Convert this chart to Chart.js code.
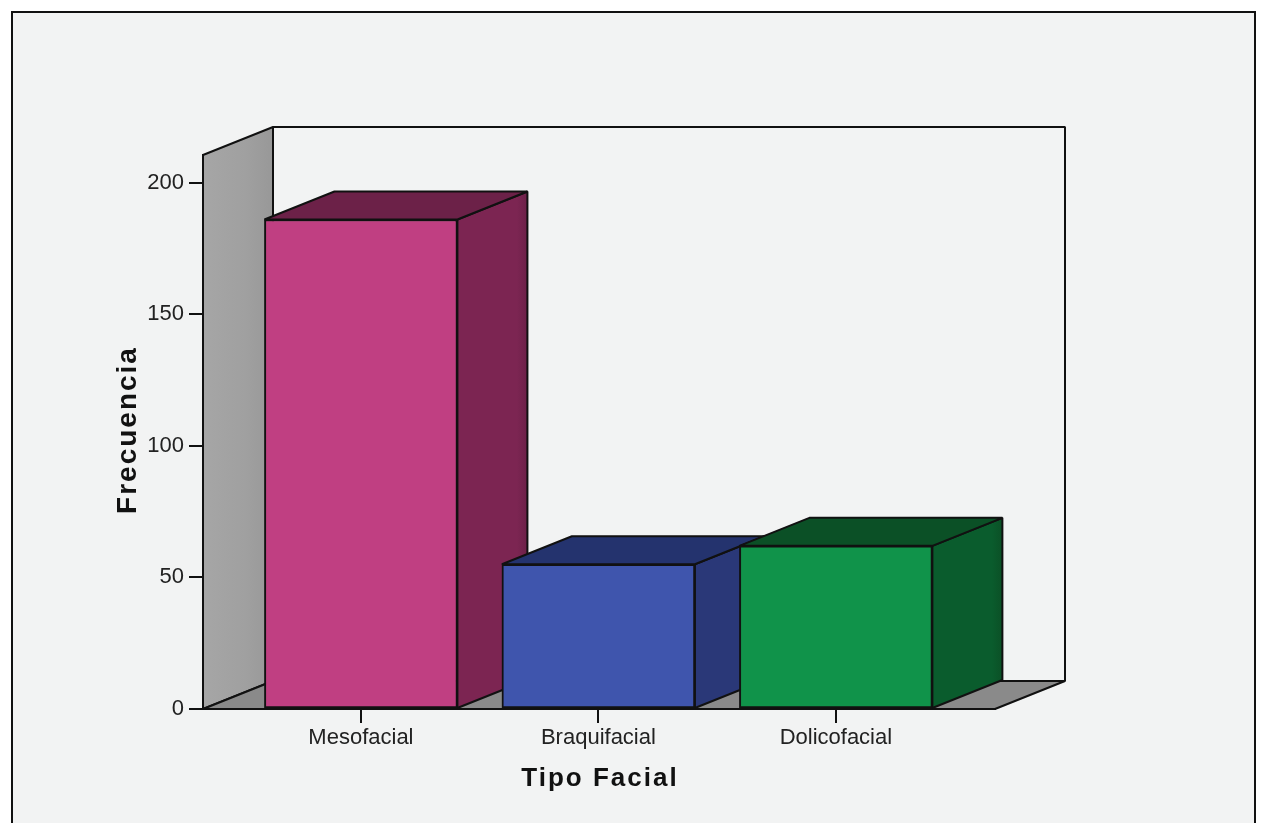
<!DOCTYPE html>
<html>
<head>
<meta charset="utf-8">
<title>Tipo Facial</title>
<style>
  html, body { margin: 0; padding: 0; background: #fff; }
  #wrap { width: 1267px; height: 823px; }
</style>
<script src="https://cdn.jsdelivr.net/npm/chart.js@4"></script>
</head>
<body>
<div id="wrap"><canvas id="facialChart" width="1267" height="823"></canvas></div>
<script>
const categories = ['Mesofacial', 'Braquifacial', 'Dolicofacial'];
const frecuencias = [186, 55, 62];
const yTicks = [0, 50, 100, 150, 200];

const frontColors = ['#c03f82', '#3f55ad', '#10934a'];
const sideColors = ['#7c2552', '#2a3878', '#0a5c2d'];
const topColors = ['#6c2148', '#24336e', '#0b5026'];

const xTitle = 'Tipo Facial';
const yTitle = 'Frecuencia';

// how far the box extrudes up and to the right
const DEPTH_X = 70;
const DEPTH_Y = 28;
const LINE = '#111';

function poly(ctx, points, fill) {
  ctx.beginPath();
  points.forEach((p, i) => (i ? ctx.lineTo(p[0], p[1]) : ctx.moveTo(p[0], p[1])));
  ctx.closePath();
  ctx.fillStyle = fill;
  ctx.fill();
  ctx.lineWidth = 2;
  ctx.strokeStyle = LINE;
  ctx.lineJoin = 'bevel';
  ctx.stroke();
}

// Panel, back wall, left wall and floor go under the scales
const roomPlugin = {
  id: 'room',
  beforeDraw(chart) {
    const { ctx, chartArea: a } = chart;
    ctx.save();
    ctx.fillStyle = '#f2f3f3';
    ctx.strokeStyle = LINE;
    ctx.lineWidth = 2;
    ctx.fillRect(12, 12, 1243, 811);
    ctx.strokeRect(12, 12, 1243, 815);

    const backL = a.left + DEPTH_X, backR = a.right + DEPTH_X;
    const backT = a.top - DEPTH_Y, backB = a.bottom - DEPTH_Y;

    poly(ctx, [[backL, backT], [backR, backT], [backR, backB], [backL, backB]], '#f2f3f3');

    const wall = ctx.createLinearGradient(a.left, 0, backL, 0);
    wall.addColorStop(0, '#a6a6a6');
    wall.addColorStop(0.6, '#a0a0a0');
    wall.addColorStop(1, '#989898');
    poly(ctx, [[a.left, a.top], [backL, backT], [backL, backB], [a.left, a.bottom]], wall);

    poly(ctx, [[a.left, a.bottom], [backL, backB], [backR, backB], [a.right, a.bottom]], '#8a8a8a');
    ctx.restore();
  },
  // Side and top of each bar, the front face comes from the dataset itself
  beforeDatasetsDraw(chart) {
    const { ctx } = chart;
    const bars = chart.getDatasetMeta(0).data;
    ctx.save();
    bars.forEach((bar, i) => {
      const r = bar.x + bar.width / 2;
      const l = bar.x - bar.width / 2;
      const side = ctx.createLinearGradient(r, 0, r + DEPTH_X, 0);
      side.addColorStop(0, sideColors[i]);
      side.addColorStop(0.85, sideColors[i]);
      side.addColorStop(1, topColors[i]);
      poly(ctx, [[r, bar.y], [r + DEPTH_X, bar.y - DEPTH_Y], [r + DEPTH_X, bar.base - DEPTH_Y], [r, bar.base]], side);
      poly(ctx, [[l, bar.y], [l + DEPTH_X, bar.y - DEPTH_Y], [r + DEPTH_X, bar.y - DEPTH_Y], [r, bar.y]], topColors[i]);
    });
    ctx.restore();
  },
  // Axis titles are letter-spaced
  afterDraw(chart) {
    const { ctx } = chart;
    ctx.save();
    ctx.fillStyle = '#111';
    ctx.textAlign = 'center';
    ctx.textBaseline = 'middle';
    ctx.letterSpacing = '2px';
    ctx.font = 'bold 26px "Liberation Sans"';
    ctx.fillText(xTitle, 600, 779);
    ctx.translate(128, 430);
    ctx.rotate(-Math.PI / 2);
    ctx.font = 'bold 28px "Liberation Sans"';
    ctx.fillText(yTitle, 0, 0);
    ctx.restore();
  }
};

new Chart(document.getElementById('facialChart'), {
  type: 'bar',
  data: {
    datasets: [{
      label: 'Frecuencia',
      data: frecuencias.map((v, i) => ({ x: i, y: v })),
      backgroundColor: frontColors,
      borderColor: LINE,
      borderWidth: 2,
      borderSkipped: false,
      barThickness: 193,
      clip: false
    }]
  },
  plugins: [roomPlugin],
  options: {
    responsive: false,
    animation: false,
    layout: { padding: { top: 155, right: 272, left: 0, bottom: 0 } },
    plugins: {
      legend: { display: false },
      tooltip: { enabled: false }
    },
    scales: {
      x: {
        type: 'linear',
        offset: false,
        min: -0.665,
        max: 2.67,
        afterBuildTicks: (axis) => { axis.ticks = categories.map((c, i) => ({ value: i })); },
        afterFit: (axis) => { axis.height = 114; },
        grid: { offset: false, drawOnChartArea: false, color: LINE, lineWidth: 2, tickLength: 14 },
        border: { color: LINE, width: 2 },
        ticks: {
          autoSkip: false,
          maxRotation: 0,
          padding: 2,
          color: '#222',
          font: { family: '"Liberation Sans"', size: 22 },
          callback: (value) => categories[value]
        }
      },
      y: {
        min: 0,
        max: 210.5,
        afterBuildTicks: (axis) => { axis.ticks = yTicks.map((value) => ({ value })); },
        afterFit: (axis) => { axis.width = 203; },
        grid: { drawOnChartArea: false, color: LINE, lineWidth: 2, tickLength: 14 },
        border: { color: LINE, width: 2 },
        ticks: {
          padding: 5,
          color: '#222',
          font: { family: '"Liberation Sans"', size: 22 }
        }
      }
    }
  }
});
</script>
</body>
</html>
